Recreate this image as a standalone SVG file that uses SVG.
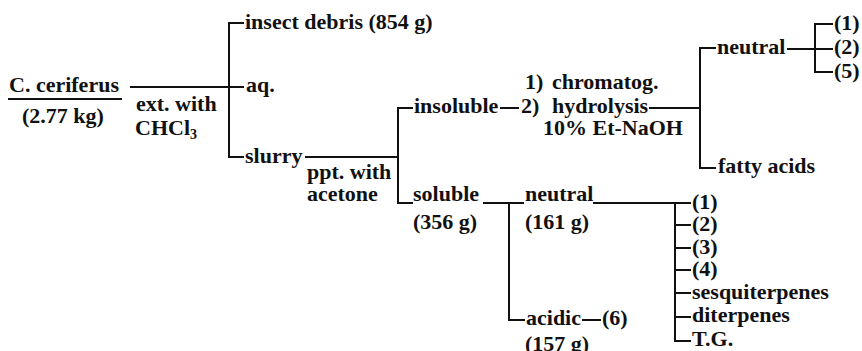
<svg xmlns="http://www.w3.org/2000/svg" width="862" height="351" viewBox="0 0 862 351">
  <style>
    text { font-family: "Liberation Serif", "Times New Roman", serif; font-weight: bold; font-size: 22px; fill: #111; }
    .ln { stroke: #111; stroke-width: 2; fill: none; stroke-linecap: square; }
    .sub { font-size: 14px; }
  </style>
  <rect width="862" height="351" fill="#fff"/>

  <!-- connectors: trunk lines and brackets -->
  <g id="connectors" class="ln">
    <path d="M9 99 H121"/>
    <path d="M131 87 H243"/>
    <path d="M229 23 V157 M229 23 H243 M229 157 H243"/>
    <path d="M306 157 H398 M398 108 V203 M398 108 H412 M398 203 H412"/>
    <path d="M501 108 H518"/>
    <path d="M650 108 H700 M700 48 V168 M700 48 H715 M700 168 H715"/>
    <path d="M788 49 H832 M815 24 V72 M815 24 H832 M815 72 H832"/>
    <path d="M484 203 H523 M509 203 V320 M509 320 H524"/>
    <path d="M583 320 H600"/>
    <path d="M594 203 H690 M675 203 V341 M675 225 H690 M675 248 H690 M675 270 H690 M675 293 H690 M675 317 H690 M675 341 H690"/>
  </g>

  <g id="source">
    <text x="9" y="92">C. ceriferus</text>
    <text x="22" y="123">(2.77 kg)</text>
  </g>
  <g id="extraction">
    <text x="136" y="111">ext. with</text>
    <text x="135" y="135">CHCl<tspan class="sub" dy="4">3</tspan></text>
  </g>
  <g id="insect-debris"><text x="245" y="29">insect debris (854 g)</text></g>
  <g id="aq"><text x="246" y="92">aq.</text></g>
  <g id="slurry"><text x="245" y="163">slurry</text></g>
  <g id="precipitation">
    <text x="307" y="179">ppt. with</text>
    <text x="307" y="201">acetone</text>
  </g>
  <g id="insoluble"><text x="414" y="113">insoluble</text></g>
  <g id="treatment">
    <text x="525" y="89">1)</text><text x="552" y="89">chromatog.</text>
    <text x="521" y="113">2)</text><text x="552" y="113">hydrolysis</text>
    <text x="543" y="135">10% Et-NaOH</text>
  </g>
  <g id="neutral-insoluble"><text x="717" y="54">neutral</text></g>
  <g id="insoluble-products">
    <text x="834" y="30">(1)</text>
    <text x="834" y="54">(2)</text>
    <text x="834" y="78">(5)</text>
  </g>
  <g id="fatty-acids"><text x="718" y="173">fatty acids</text></g>
  <g id="soluble">
    <text x="413" y="201">soluble</text>
    <text x="413" y="229">(356 g)</text>
  </g>
  <g id="neutral-soluble">
    <text x="525" y="201">neutral</text>
    <text x="525" y="229">(161 g)</text>
  </g>
  <g id="acidic">
    <text x="526" y="325">acidic</text>
    <text x="525" y="351">(157 g)</text>
  </g>
  <g id="acidic-product"><text x="602" y="325">(6)</text></g>
  <g id="neutral-products">
    <text x="692" y="209">(1)</text>
    <text x="692" y="231">(2)</text>
    <text x="692" y="254">(3)</text>
    <text x="692" y="276">(4)</text>
    <text x="692" y="299">sesquiterpenes</text>
    <text x="692" y="322">diterpenes</text>
    <text x="692" y="346">T.G.</text>
  </g>
</svg>
